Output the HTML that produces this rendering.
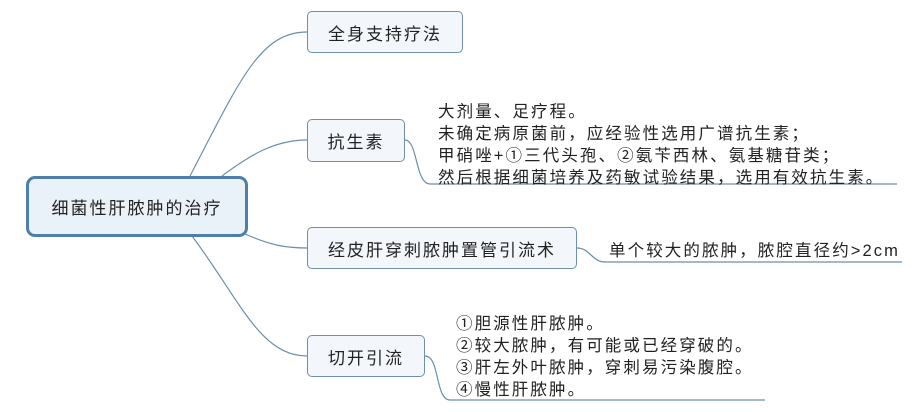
<!DOCTYPE html>
<html><head><meta charset="utf-8"><style>
body{margin:0;width:924px;height:412px;background:#fff;position:relative;overflow:hidden;font-family:"Liberation Sans","Noto Sans CJK SC",sans-serif;color:#222}
.n{position:absolute;box-sizing:border-box;border:1px solid #6f8fab;border-radius:5px;background:#f3f7fb;display:flex;align-items:center;justify-content:center;font-size:17px;letter-spacing:2px}
.t{position:absolute;font-size:16.5px;line-height:22px;white-space:nowrap;letter-spacing:2.1px}
</style></head><body>
<svg width="924" height="412" style="position:absolute;left:0;top:0" fill="none" stroke="#6a8fae" stroke-width="1.2">
<path d="M190 176 C240 80 260 32 307 32"/>
<path d="M222 176 C250 155 275 140 307 140"/>
<path d="M245 234 C270 245 285 248 307 248"/>
<path d="M192 236 C240 300 260 356 307 356"/>
<path d="M405 140 C418 140 415 184 430 184 L897 184"/>
<path d="M577 248 C590 248 592 262 605 262 L902 262"/>
<path d="M425 356 C440 356 435 400 450 400 L765 400"/>
</svg>
<div class="n" style="left:26px;top:176px;width:222px;height:61px;border:3px solid #4f7fa6;border-radius:9px;background:#e9f1f9;font-size:17px">细菌性肝脓肿的治疗</div>
<div class="n" style="left:307px;top:11px;width:156px;height:42px">全身支持疗法</div>
<div class="n" style="left:307px;top:119px;width:98px;height:43px">抗生素</div>
<div class="n" style="left:307px;top:227px;width:270px;height:42px">经皮肝穿刺脓肿置管引流术</div>
<div class="n" style="left:307px;top:335px;width:118px;height:42px">切开引流</div>
<div class="t" style="left:438px;top:101px">大剂量、足疗程。<br>未确定病原菌前，应经验性选用广谱抗生素；<br>甲硝唑+①三代头孢、②氨苄西林、氨基糖苷类；<br>然后根据细菌培养及药敏试验结果，选用有效抗生素。</div>
<div class="t" style="left:609px;top:240px">单个较大的脓肿，脓腔直径约&gt;2cm</div>
<div class="t" style="left:456px;top:313px">①胆源性肝脓肿。<br>②较大脓肿，有可能或已经穿破的。<br>③肝左外叶脓肿，穿刺易污染腹腔。<br>④慢性肝脓肿。</div>
</body></html>
